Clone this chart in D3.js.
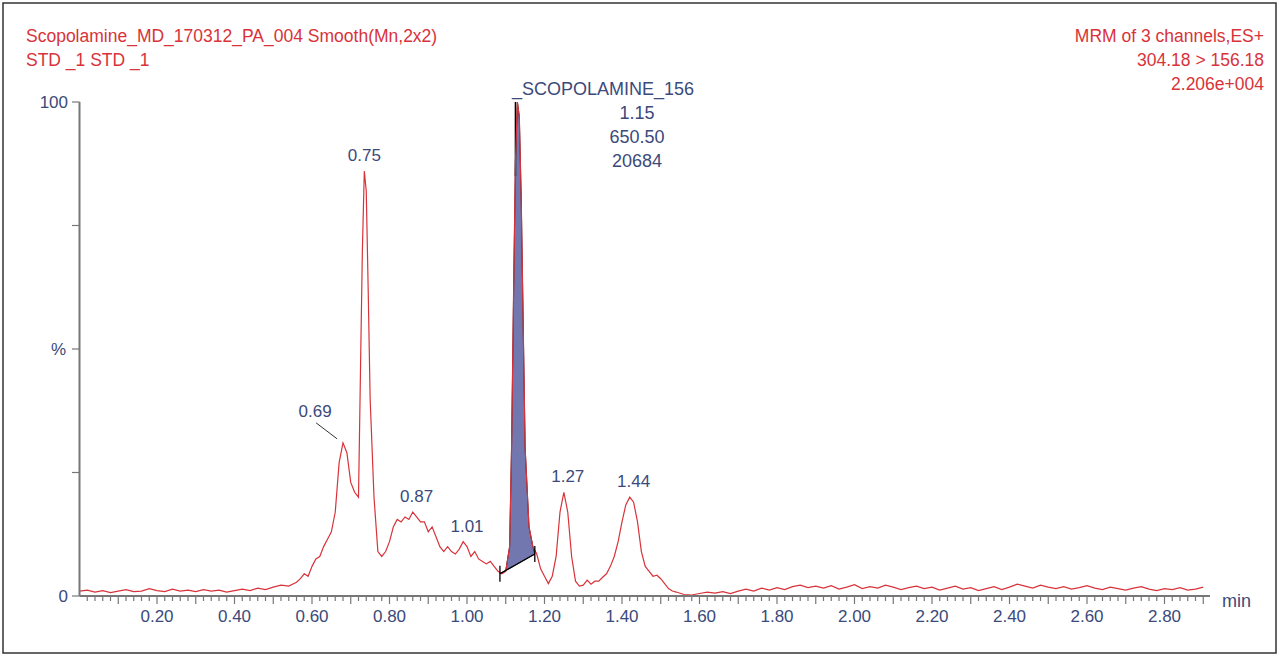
<!DOCTYPE html>
<html><head><meta charset="utf-8">
<script src="https://cdn.jsdelivr.net/npm/d3@7"></script>
<style>body{margin:0;background:#fff}svg{font-family:Arial,"Liberation Sans",sans-serif}</style>
</head><body><svg id="c" width="1280" height="657"></svg>
<script>
const times = [0.00,0.02,0.04,0.06,0.08,0.10,0.12,0.14,0.16,0.18,0.20,0.22,0.24,0.26,0.28,0.30,0.32,0.34,0.36,0.38,0.40,0.42,0.44,0.46,0.48,0.50,0.52,0.54,0.56,0.57,0.58,0.59,0.60,0.61,0.62,0.63,0.64,0.65,0.66,0.67,0.68,0.69,0.70,0.71,0.72,0.725,0.73,0.735,0.74,0.745,0.75,0.76,0.77,0.78,0.79,0.80,0.81,0.82,0.83,0.84,0.85,0.86,0.87,0.88,0.89,0.90,0.91,0.92,0.93,0.94,0.95,0.96,0.97,0.98,0.99,1.00,1.01,1.02,1.03,1.04,1.05,1.06,1.07,1.08,1.09,1.10,1.11,1.115,1.12,1.125,1.13,1.135,1.14,1.145,1.15,1.16,1.17,1.18,1.19,1.20,1.21,1.22,1.23,1.24,1.25,1.26,1.27,1.28,1.29,1.30,1.31,1.32,1.33,1.34,1.35,1.36,1.37,1.38,1.39,1.40,1.41,1.42,1.43,1.44,1.45,1.46,1.47,1.48,1.49,1.50,1.51,1.52,1.53,1.54,1.56,1.58,1.60,1.62,1.64,1.66,1.68,1.70,1.72,1.74,1.76,1.78,1.80,1.82,1.84,1.86,1.88,1.90,1.92,1.94,1.96,1.98,2.00,2.02,2.04,2.06,2.08,2.10,2.12,2.14,2.16,2.18,2.20,2.22,2.24,2.26,2.28,2.30,2.32,2.34,2.36,2.38,2.40,2.42,2.44,2.46,2.48,2.50,2.52,2.54,2.56,2.58,2.60,2.62,2.64,2.66,2.68,2.70,2.72,2.74,2.76,2.78,2.80,2.82,2.84,2.86,2.88,2.90,2.92,2.94,2.96];
const intensity = [1.0,1.2,0.8,1.1,0.7,1.0,1.3,0.9,1.0,1.5,1.1,0.9,1.4,1.0,1.2,0.9,1.3,1.0,1.2,0.8,1.1,1.4,1.1,1.6,1.3,1.8,2.2,2.0,2.8,3.5,4.5,4.0,6,7.5,8,10,11.5,13,17,27,31,29,23,21,20,45,70,86,82,62,40,20,9,8,9,11,14,15.5,15,16,15.5,17,16,15,15,13,14,12,10,9,10,9,8.5,9.5,11,10,8,9,7.5,7,6.5,7,6,5,4.5,5,10,30,60,88,100,97,80,55,30,14,10,8.5,5.5,4,2.5,4,8,17,21,17,8,3,2,2.2,3.2,2.4,3,3,3.8,4.5,6,8,11,15,18.5,20,19,15,9,6,5,4,4.2,3.5,2.5,1.5,1,0.8,0.3,0.2,0.5,0.8,0.6,0.9,0.5,1.0,1.4,1.0,1.6,1.2,1.7,1.3,1.9,2.2,1.7,2.0,1.6,2.1,1.4,1.8,2.3,1.5,1.9,1.6,2.2,1.8,1.3,1.7,2.0,1.5,1.8,1.2,1.6,2.0,1.4,1.7,1.1,1.5,1.9,1.3,1.8,2.4,2.0,1.6,2.2,1.8,1.5,1.9,1.4,1.7,2.1,1.6,1.3,1.8,1.5,1.2,1.6,1.9,1.4,1.1,1.5,1.3,1.7,1.2,1.4,1.8];
const xTickLabels = [0.20,0.40,0.60,0.80,1.00,1.20,1.40,1.60,1.80,2.00,2.20,2.40,2.60,2.80];
const peakLabels = [{t:0.67,v:31,dx:-24,dy:-26,txt:"0.69"},{t:0.735,v:86,dx:0,dy:-10,txt:"0.75"},{t:0.87,v:17,dx:0,dy:-10,txt:"0.87"},{t:1.00,v:11,dx:0,dy:-10,txt:"1.01"},{t:1.26,v:21,dx:0,dy:-10,txt:"1.27"},{t:1.43,v:20,dx:0,dy:-10,txt:"1.44"}];
const mainPeak = ["_SCOPOLAMINE_156","1.15","650.50","20684"];
const integStart = [1.085,4.5], integEnd = [1.175,8.5];

const svg = d3.select("#c");
const red = "#d8333a", blue = "#3b4a7a";
svg.append("rect").attr("x",3).attr("y",3).attr("width",1273).attr("height",650).attr("fill","none").attr("stroke","#333").attr("stroke-width",1.5);
const x = d3.scaleLinear().domain([0,3]).range([79.5,1242]);
const y = d3.scaleLinear().domain([0,100]).range([596,102]);
const data = times.map((t,i)=>[t,intensity[i]]);

const inPeak = data.filter(d=>d[0]>=integStart[0]&&d[0]<=integEnd[0]);
const base = t=> integStart[1]+(t-integStart[0])/(integEnd[0]-integStart[0])*(integEnd[1]-integStart[1]);
const pk = [[integStart[0],integStart[1]],...inPeak.map(d=>[d[0],Math.max(d[1],base(d[0]))]),[integEnd[0],integEnd[1]]];
svg.append("path").attr("d",d3.area().x(d=>x(d[0])).y0(d=>y(base(d[0]))).y1(d=>y(d[1]))(pk)).attr("fill","#7377b0").attr("stroke","#222").attr("stroke-width",1);
svg.append("line").attr("x1",x(1.125)).attr("x2",x(1.125)).attr("y1",y(100)).attr("y2",y(85)).attr("stroke","#000").attr("stroke-width",1.5);

svg.append("path").datum(data).attr("d",d3.line().x(d=>x(d[0])).y(d=>y(d[1]))).attr("fill","none").attr("stroke",red).attr("stroke-width",1.2);
svg.append("line").attr("x1",x(integStart[0])).attr("y1",y(integStart[1])).attr("x2",x(integEnd[0])).attr("y2",y(integEnd[1])).attr("stroke","#000").attr("stroke-width",1.3);
[integStart,integEnd].forEach(p=>svg.append("line").attr("x1",x(p[0])).attr("x2",x(p[0])).attr("y1",y(p[1])-8).attr("y2",y(p[1])+8).attr("stroke","#000").attr("stroke-width",1.3));

const gx = svg.append("g").attr("transform","translate(0,596)");
svg.append("line").attr("x1",79.5).attr("x2",1210).attr("y1",596).attr("y2",596).attr("stroke","#777").attr("stroke-width",2);
d3.range(1,146).map(i=>i*0.02).forEach(t=>{
  const major = Math.abs(t*10-Math.round(t*10))<1e-6;
  gx.append("line").attr("x1",x(t)).attr("x2",x(t)).attr("y1",0).attr("y2",major?8:5).attr("stroke","#777").attr("stroke-width",1.2);
});
xTickLabels.forEach(t=>gx.append("text").attr("x",x(t)).attr("y",26).attr("text-anchor","middle").attr("fill",blue).attr("font-size",17).text(t.toFixed(2)));
svg.append("text").attr("x",1222).attr("y",607).attr("fill",blue).attr("font-size",18).text("min");
svg.append("line").attr("x1",79.5).attr("x2",79.5).attr("y1",102).attr("y2",596).attr("stroke","#777").attr("stroke-width",2);
[0,25,50,75,100].forEach(v=>svg.append("line").attr("x1",72).attr("x2",79.5).attr("y1",y(v)).attr("y2",y(v)).attr("stroke","#777").attr("stroke-width",1.2));
svg.append("text").attr("x",68).attr("y",y(100)+6).attr("text-anchor","end").attr("fill",blue).attr("font-size",17).text("100");
svg.append("text").attr("x",66).attr("y",y(50)+6).attr("text-anchor","end").attr("fill",blue).attr("font-size",17).text("%");
svg.append("text").attr("x",68).attr("y",y(0)+6).attr("text-anchor","end").attr("fill",blue).attr("font-size",17).text("0");

peakLabels.forEach(p=>{
  svg.append("text").attr("x",x(p.t)+p.dx).attr("y",y(p.v)+p.dy).attr("text-anchor","middle").attr("fill",blue).attr("font-size",17).text(p.txt);
});
svg.append("line").attr("x1",x(0.67)-23).attr("y1",y(31)-20).attr("x2",x(0.67)-2).attr("y2",y(31)-4).attr("stroke","#333");
mainPeak.forEach((s,i)=>svg.append("text").attr("x",i==0?512:637).attr("y",95+i*24).attr("text-anchor",i==0?"start":"middle").attr("fill",blue).attr("font-size",18).text(s));

svg.append("text").attr("x",26).attr("y",42).attr("fill",red).attr("font-size",17.5).text("Scopolamine_MD_170312_PA_004 Smooth(Mn,2x2)");
svg.append("text").attr("x",26).attr("y",66).attr("fill",red).attr("font-size",17.5).text("STD _1 STD _1");
["MRM of 3 channels,ES+","304.18 > 156.18","2.206e+004"].forEach((s,i)=>svg.append("text").attr("x",1264).attr("y",42+i*24).attr("text-anchor","end").attr("fill",red).attr("font-size",17.5).text(s));
</script></body></html>
